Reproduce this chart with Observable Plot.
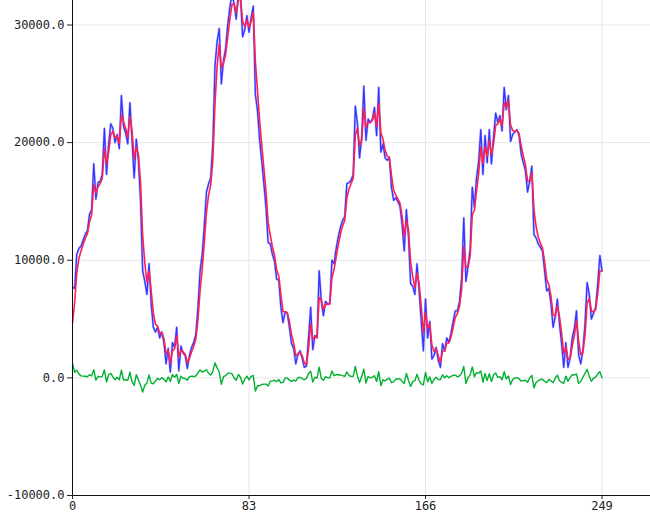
<!DOCTYPE html>
<html><head><meta charset="utf-8">
<script src="https://cdn.jsdelivr.net/npm/d3@7"></script>
<script src="https://cdn.jsdelivr.net/npm/@observablehq/plot@0.6"></script>
<style>body{margin:0;background:#fff}</style>
</head><body><div id="chart"></div>
<script>
const blue = [
7700,7600,10500,11000,11200,11700,12200,12500,13900,14300,
18200,15200,16600,16700,17300,21200,17300,19900,21600,21200,
20000,20700,19500,24000,21400,20800,19900,23400,20200,17000,
20300,18500,15000,9100,8200,7100,9700,6300,4300,3900,
4300,3400,3900,3000,1200,2500,500,3000,2600,4300,
600,2700,2100,1900,800,1900,2600,3000,3700,6000,
9100,10500,13000,15800,16500,17000,19900,26500,28600,29700,
25000,27000,28000,30000,31500,32600,31800,30500,32800,32400,
29000,29600,30800,29400,30600,31600,24100,22700,20200,18400,
16500,14500,11500,11400,10500,9900,8400,8300,6000,4700,
5600,5500,4300,2900,2500,1200,2000,2300,1700,900,
1000,3400,6000,2400,3600,3400,9100,6500,5300,6500,
6300,6300,10000,9700,11000,12000,12800,13400,13700,16500,
16600,16800,17300,23100,21600,18700,20500,24800,20200,22000,
21700,22000,23000,20600,24700,19200,19900,18700,18500,18700,
16200,15100,15300,15000,14600,13000,10800,14300,12000,8000,
7800,7100,9700,7400,4800,2300,6700,3400,4800,1600,
1900,2600,1500,900,2900,2300,3400,3000,3800,4800,
5700,5700,6500,8500,13600,8200,9500,11000,16200,14500,
17000,18400,21100,17300,20600,18300,21100,18200,20500,22500,
21700,22300,21000,24700,22800,24000,20100,20700,20900,21100,
20600,19000,18300,17600,15800,16700,18000,12200,11900,11400,
11100,10800,9100,7400,7600,6300,4300,5200,6700,4600,
2900,900,3000,900,1700,3400,4200,5700,2000,1200,
2300,4600,8100,7100,5000,5500,6000,8000,10400,9100
];
const red = [
4620,6410,8860,10150,10780,11330,11850,12240,13240,13870,
16470,15710,16240,16520,16990,19520,18190,19210,20650,20980,
20390,20580,19930,22370,21790,21200,20420,22210,21000,18600,
19620,18950,16580,12090,9760,8160,9090,7410,5550,4560,
4400,3800,3860,3340,2060,2320,1230,2290,2480,3570,
1790,2340,2190,2020,1290,1660,2220,2690,3300,4920,
7430,9270,11510,14080,15530,16410,18510,23300,26480,28410,
26370,26750,27500,29000,30500,31760,31780,31010,32090,32270,
30310,29880,30430,29810,30290,31070,26890,24380,21870,19790,
17820,15830,13230,12130,11150,10400,9200,8660,7060,5650,
5620,5550,4800,3660,2960,1910,1960,2170,1890,1290,
1120,2490,4600,3280,3470,3430,6830,6630,5830,6230,
6270,6290,8520,9230,10290,11320,12210,12920,13390,15260,
16060,16510,16980,20650,21220,19710,20180,22950,21300,21720,
21710,21880,22550,21380,23370,20870,20290,19340,18830,18750,
17220,15950,15560,15220,14850,13740,11980,13370,12550,9820,
8610,7700,8900,8000,6080,3810,5550,4260,4580,2790,
2260,2460,1890,1290,2260,2280,2950,2980,3470,4270,
5130,5470,6090,7540,11170,9390,9460,10380,13870,14250,
15900,17400,19620,18230,19650,18840,20200,19000,19900,21460,
21600,22020,21410,23380,23030,23610,21510,21020,20950,21040,
20780,19710,18860,18110,16720,16710,17480,14310,12870,11990,
11450,11060,9890,8390,7920,6950,5360,5260,6130,5210,
3820,2070,2630,1590,1660,2700,3600,4860,3140,1980,
2170,3630,6310,6780,5710,5590,5830,7130,9090,9100
];
const green = [
1230,480,650,340,170,150,140,100,270,170,
690,-200,140,70,130,670,-350,270,380,90,
-160,50,-170,650,-160,-160,-210,480,-320,-640,
270,-180,-630,-1200,-620,-430,250,-450,-500,-260,
-40,-160,20,-140,-340,70,-290,280,50,290,
-480,150,-40,-50,-200,100,150,120,160,430,
670,490,600,690,390,240,560,1280,850,520,
-550,100,200,400,400,340,10,-210,290,50,
-520,-110,150,-170,130,210,-1120,-670,-670,-560,
-530,-530,-690,-290,-260,-200,-320,-140,-430,-380,
-10,-20,-200,-300,-190,-280,20,50,-70,-160,
-50,370,560,-350,50,-10,910,-50,-210,110,
10,0,590,190,280,270,240,190,120,500,
220,120,130,980,150,-400,130,740,-440,110,
0,50,180,-310,530,-670,-160,-250,-130,-20,
-410,-340,-100,-90,-100,-300,-470,370,-220,-730,
-320,-240,320,-240,-510,-600,460,-340,90,-480,
-140,50,-150,-160,260,10,180,10,130,210,
230,90,170,390,970,-480,20,250,930,100,
440,400,590,-370,380,-220,360,-320,240,420,
40,110,-160,530,-90,160,-560,-130,-20,20,
-70,-280,-230,-200,-370,0,210,-850,-390,-240,
-140,-110,-310,-400,-130,-260,-420,-30,230,-240,
-370,-470,150,-280,20,280,240,340,-460,-310,
50,390,720,130,-290,-30,70,350,520,0
];
const xTicks = [0, 83, 166, 249];
const yTicks = [-10000, 0, 10000, 20000, 30000];
const idx = (d, i) => i;
const val = d => d;

const chart = Plot.plot({
  width: 650, height: 521,
  marginLeft: 72, marginRight: 0, marginTop: 0, marginBottom: 26,
  style: {fontFamily: "'DejaVu Sans Mono', monospace", fontSize: "12px", color: "#222", background: "#fff"},
  x: {domain: [0, 271.8]},
  y: {domain: [-10000, 32083]},
  marks: [
    Plot.gridX(xTicks, {stroke: "#e6e6ec", strokeOpacity: 1}),
    Plot.gridY(yTicks, {stroke: "#e6e6e6", strokeOpacity: 1}),
    Plot.lineY(blue, {x: idx, y: val, stroke: "#8080ff", strokeWidth: 2.4, strokeOpacity: 0.5, clip: true}),
    Plot.lineY(blue, {x: idx, y: val, stroke: "#3434ff", strokeWidth: 1.3, clip: true}),
    Plot.lineY(red, {x: idx, y: val, stroke: "#ff2050", strokeWidth: 1.6, clip: true}),
    Plot.lineY(green, {x: idx, y: val, stroke: "#00b030", strokeWidth: 1.4, clip: true}),
    Plot.ruleX([0], {stroke: "#111"}),
    Plot.ruleY([-10000], {stroke: "#111"}),
    Plot.axisY(yTicks, {tickFormat: d => d.toFixed(1), tickSize: 5, tickPadding: 3, label: null}),
    Plot.axisX(xTicks, {tickSize: 4, tickPadding: 2, label: null})
  ]
});
document.getElementById("chart").appendChild(chart);
</script>
</body></html>
